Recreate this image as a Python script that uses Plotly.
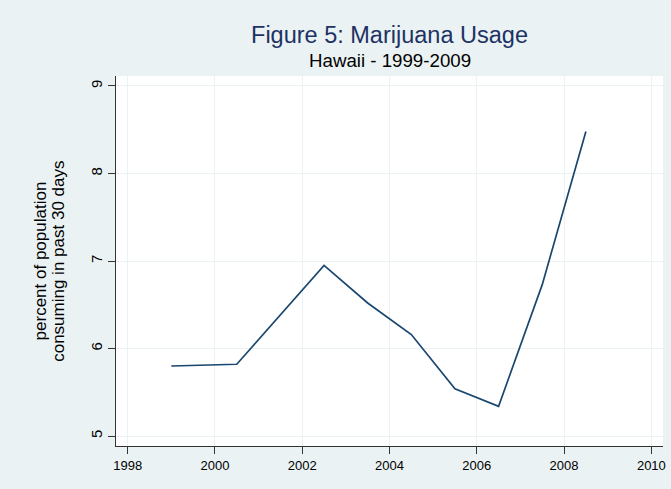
import plotly.graph_objects as go

# Data
years = [1999, 2000.5, 2002.5, 2003.5, 2004.5, 2005.5, 2006.5, 2007.5, 2008.5]
usage = [5.80, 5.82, 6.95, 6.52, 6.16, 5.54, 5.34, 6.73, 8.48]

x_ticks = [1998, 2000, 2002, 2004, 2006, 2008, 2010]
y_ticks = [5, 6, 7, 8, 9]

title_text = "Figure 5: Marijuana Usage"
subtitle_text = "Hawaii - 1999-2009"
ytitle_lines = ["percent of population", "consuming in past 30 days"]

FONT = "Liberation Sans, Arial, Helvetica, sans-serif"
BG = "#eaf2f3"
GRID = "#eaf2f3"
LINE = "#1a476f"

W, H = 671, 489
ML, MR, MT, MB = 116, 5, 76, 43
PW = W - ML - MR
PH = H - MT - MB

fig = go.Figure()
fig.add_trace(go.Scatter(
    x=years, y=usage, mode="lines",
    line=dict(color=LINE, width=1.7),
    showlegend=False, hoverinfo="x+y",
))

def px_to_paper_x(px):
    return (px - ML) / PW

def px_to_paper_y(py):
    return (H - MB - py) / PH

annotations = [
    dict(text=subtitle_text, x=0.5, xref="paper", xanchor="center",
         y=px_to_paper_y(73), yref="paper", yanchor="bottom",
         showarrow=False, font=dict(family=FONT, size=18.7, color="black")),
    dict(text=ytitle_lines[0], x=px_to_paper_x(40), xref="paper", xanchor="center",
         y=0.5, yref="paper", yanchor="middle", textangle=-90,
         showarrow=False, font=dict(family=FONT, size=17, color="black")),
    dict(text=ytitle_lines[1], x=px_to_paper_x(57.5), xref="paper", xanchor="center",
         y=0.5, yref="paper", yanchor="middle", textangle=-90,
         showarrow=False, font=dict(family=FONT, size=17, color="black")),
]

fig.update_layout(
    width=W, height=H,
    margin=dict(l=ML, r=MR, t=MT, b=MB, pad=0),
    paper_bgcolor=BG, plot_bgcolor="white",
    title=dict(text=title_text, x=0.5, xref="paper", xanchor="center",
               y=1 - 42.7 / H, yref="container", yanchor="bottom",
               font=dict(family=FONT, size=23.5, color="#1e3264")),
    annotations=annotations,
    xaxis=dict(
        range=[1997.733, 2010.267], tickmode="array", tickvals=x_ticks,
        ticktext=[str(t) for t in x_ticks],
        showgrid=True, gridcolor=GRID, gridwidth=1,
        showline=True, linecolor="#333333", linewidth=1,
        ticks="outside", ticklen=7, tickcolor="#333333", tickwidth=1,
        tickfont=dict(family=FONT, size=13, color="black"),
        zeroline=False, fixedrange=True,
    ),
    yaxis=dict(
        range=[4.886, 9.114], tickmode="array", tickvals=y_ticks,
        ticktext=[str(t) for t in y_ticks],
        showgrid=True, gridcolor=GRID, gridwidth=1,
        showline=True, linecolor="#333333", linewidth=1,
        ticks="outside", ticklen=7, tickcolor="#333333", tickwidth=1,
        tickangle=-90,
        tickfont=dict(family=FONT, size=15, color="black"),
        zeroline=False, fixedrange=True,
    ),
)

fig.write_html(
    "out.html",
    config={"displayModeBar": False},
    post_script="document.body.style.margin='0';document.body.style.padding='0';",
)
